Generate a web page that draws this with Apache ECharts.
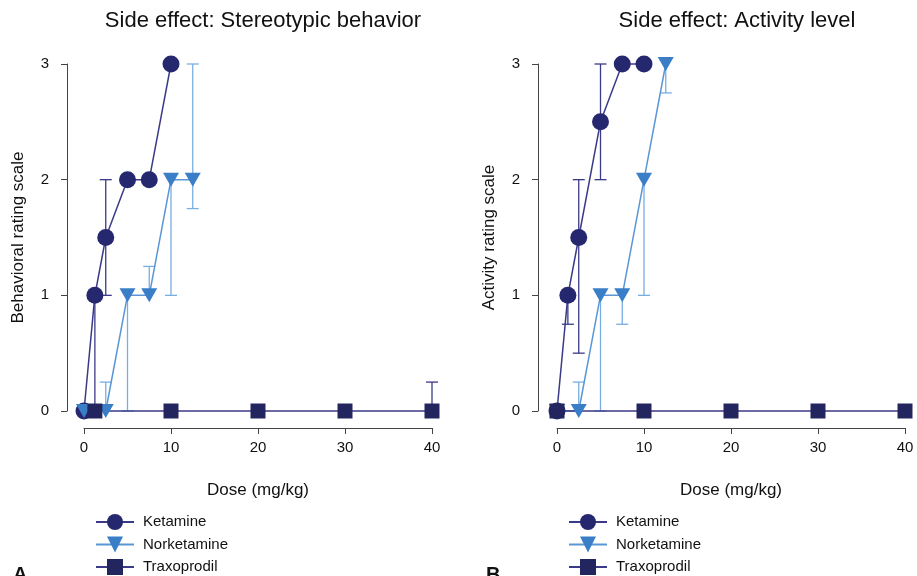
<!DOCTYPE html>
<html>
<head>
<meta charset="utf-8">
<script src="https://cdn.jsdelivr.net/npm/echarts@6/dist/echarts.min.js"></script>
<style>
  html, body { margin: 0; padding: 0; background: #fff; }
  #chart { width: 917px; height: 576px; }
</style>
</head>
<body>
<div id="chart"></div>
<script>
// Dose–response of side effects (rating scale) for three NMDA compounds.
const doseTicks = [0, 10, 20, 30, 40];
const ratingTicks = [0, 1, 2, 3];

// Panel A: stereotypic behavior
const ketDoseA = [0, 1.25, 2.5, 5, 7.5, 10];
const ketValA  = [0, 1, 1.5, 2, 2, 3];
const ketLowA  = [0, 0, 1, 2, 2, 3];
const ketHighA = [0, 1, 2, 2, 2, 3];

const norDoseA = [0, 2.5, 5, 7.5, 10, 12.5];
const norValA  = [0, 0, 1, 1, 2, 2];
const norLowA  = [0, 0, 0, 1, 1, 1.75];
const norHighA = [0, 0.25, 1, 1.25, 2, 3];

const traDoseA = [1.25, 10, 20, 30, 40];
const traValA  = [0, 0, 0, 0, 0];
const traLowA  = [0, 0, 0, 0, 0];
const traHighA = [0, 0, 0, 0, 0.25];

// Panel B: activity level
const ketDoseB = [0, 1.25, 2.5, 5, 7.5, 10];
const ketValB  = [0, 1, 1.5, 2.5, 3, 3];
const ketLowB  = [0, 0.75, 0.5, 2, 3, 3];
const ketHighB = [0, 1, 2, 3, 3, 3];

const norDoseB = [0, 2.5, 5, 7.5, 10, 12.5];
const norValB  = [0, 0, 1, 1, 2, 3];
const norLowB  = [0, 0, 0, 0.75, 1, 2.75];
const norHighB = [0, 0.25, 1, 1, 2, 3];

const traDoseB = [0, 10, 20, 30, 40];
const traValB  = [0, 0, 0, 0, 0];

const names = ['Ketamine', 'Norketamine', 'Traxoprodil'];

const FONT = '"Liberation Sans", Arial, Helvetica, sans-serif';
const C_KET = '#25286f', C_KET_LINE = '#3b3a88', C_KET_ERR = '#3b3a88';
const C_NOR = '#3a7ec8', C_NOR_LINE = '#5a95d6', C_NOR_ERR = '#79aee2';
const C_TRA = '#23265e', C_TRA_LINE = '#3b3a88';
const TRI_DOWN = 'path://M0,0 L10,0 L5,9 Z';

function zip(xs, ys) { return xs.map((x, i) => [x, ys[i]]); }
function errData(xs, ys, lo, hi) {
  return xs.map((x, i) => [x, ys[i], lo[i], hi[i]]).filter(d => d[2] !== d[1] || d[3] !== d[1]);
}

// Vertical error bar with caps at the ends that extend beyond the mean
function errorBar(color, width) {
  return function (params, api) {
    const x = api.value(0), y = api.value(1), lo = api.value(2), hi = api.value(3);
    const pLo = api.coord([x, lo]);
    const pHi = api.coord([x, hi]);
    const half = 6;
    const style = { stroke: color, lineWidth: width, fill: null };
    const children = [{
      type: 'line', shape: { x1: pLo[0], y1: pLo[1], x2: pHi[0], y2: pHi[1] }, style
    }];
    if (hi !== y) children.push({ type: 'line', shape: { x1: pHi[0] - half, y1: pHi[1], x2: pHi[0] + half, y2: pHi[1] }, style });
    if (lo !== y) children.push({ type: 'line', shape: { x1: pLo[0] - half, y1: pLo[1], x2: pLo[0] + half, y2: pLo[1] }, style });
    return { type: 'group', children };
  };
}

function errSeries(idx, data, color) {
  return {
    type: 'custom', name: 'err' + idx + color, xAxisIndex: idx, yAxisIndex: idx,
    data, renderItem: errorBar(color, 1.3), z: 1, silent: true, clip: false
  };
}

function lineSeries(idx, name, data, symbol, size, fill, lineColor) {
  return {
    type: 'line', name, xAxisIndex: idx, yAxisIndex: idx, data,
    symbol, symbolSize: size, showAllSymbol: true,
    itemStyle: { color: fill, opacity: 1 },
    lineStyle: { color: lineColor, width: 1.5 },
    z: 3, clip: false, animation: false
  };
}

const grids = [
  { left: 84, top: 64, width: 348, height: 347 },
  { left: 557, top: 64, width: 348, height: 347 }
];

function xAxis(idx) {
  return {
    type: 'value', gridIndex: idx, min: 0, max: 40, interval: 10, offset: 17,
    name: 'Dose (mg/kg)', nameLocation: 'middle', nameGap: 54,
    nameTextStyle: { fontFamily: FONT, fontSize: 17, color: '#111' },
    axisLine: { onZero: false, lineStyle: { color: '#444', width: 1 } },
    axisTick: { length: 6, lineStyle: { color: '#444' } },
    axisLabel: { fontFamily: FONT, fontSize: 15, color: '#111', margin: 12,
      formatter: v => doseTicks.includes(v) ? String(v) : '' },
    splitLine: { show: false }
  };
}
function yAxis(idx, name, off) {
  return {
    type: 'value', gridIndex: idx, min: 0, max: 3, interval: 1, offset: off,
    name, nameLocation: 'middle', nameGap: 40,
    nameTextStyle: { fontFamily: FONT, fontSize: 17, color: '#111' },
    axisLine: { show: true, onZero: false, lineStyle: { color: '#444', width: 1 } },
    axisTick: { show: true, length: 6, lineStyle: { color: '#444' } },
    axisLabel: { fontFamily: FONT, fontSize: 15, color: '#111', margin: 18,
      formatter: v => ratingTicks.includes(v) ? String(v) : '' },
    splitLine: { show: false }
  };
}

function legend(left) {
  return {
    left, top: 514, orient: 'vertical', data: names, padding: 0,
    itemWidth: 38, itemHeight: 20, itemGap: 6.5, selectedMode: false,
    textStyle: { fontFamily: FONT, fontSize: 15, color: '#111', padding: [0, 0, 0, 4] }
  };
}

const series = [
  errSeries(0, errData(ketDoseA, ketValA, ketLowA, ketHighA), C_KET_ERR),
  errSeries(0, errData(norDoseA, norValA, norLowA, norHighA), C_NOR_ERR),
  errSeries(0, errData(traDoseA, traValA, traLowA, traHighA), C_KET_ERR),
  lineSeries(0, names[0], zip(ketDoseA, ketValA), 'circle', 17, C_KET, C_KET_LINE),
  lineSeries(0, names[1], zip(norDoseA, norValA), TRI_DOWN, [16, 14], C_NOR, C_NOR_LINE),
  lineSeries(0, names[2], zip(traDoseA, traValA), 'rect', 15, C_TRA, C_TRA_LINE),

  errSeries(1, errData(ketDoseB, ketValB, ketLowB, ketHighB), C_KET_ERR),
  errSeries(1, errData(norDoseB, norValB, norLowB, norHighB), C_NOR_ERR),
  lineSeries(1, names[0], zip(ketDoseB, ketValB), 'circle', 17, C_KET, C_KET_LINE),
  lineSeries(1, names[1], zip(norDoseB, norValB), TRI_DOWN, [16, 14], C_NOR, C_NOR_LINE),
  lineSeries(1, names[2], zip(traDoseB, traValB), 'rect', 15, C_TRA, C_TRA_LINE)
];

const chart = echarts.init(document.getElementById('chart'), null, { renderer: 'canvas' });
chart.setOption({
  backgroundColor: '#ffffff',
  animation: false,
  title: [
    { text: 'Side effect: Stereotypic behavior', left: 258, top: 5, textAlign: 'center',
      textStyle: { fontFamily: FONT, fontSize: 22, fontWeight: 'normal', color: '#111' } },
    { text: 'Side effect: Activity level', left: 732, top: 5, textAlign: 'center',
      textStyle: { fontFamily: FONT, fontSize: 22, fontWeight: 'normal', color: '#111' } }
  ],
  grid: grids,
  xAxis: [xAxis(0), xAxis(1)],
  yAxis: [yAxis(0, 'Behavioral rating scale', 17), yAxis(1, 'Activity rating scale', 19)],
  legend: [legend(95), legend(568)],
  series,
  graphic: [
    { type: 'text', left: 13, top: 565, style: { text: 'A', font: 'bold 20px ' + FONT, fill: '#111' } },
    { type: 'text', left: 486, top: 565, style: { text: 'B', font: 'bold 20px ' + FONT, fill: '#111' } }
  ]
});
</script>
</body>
</html>
